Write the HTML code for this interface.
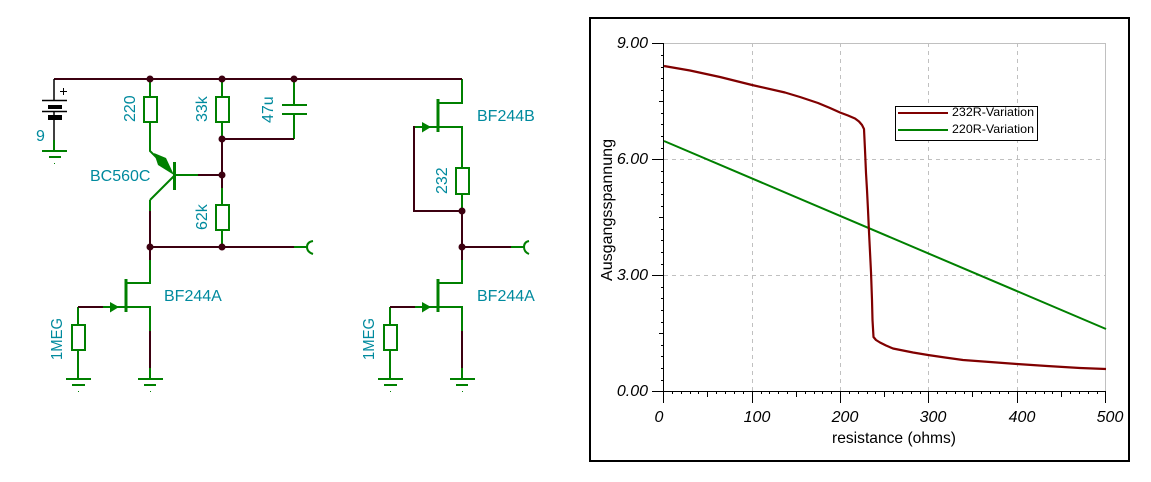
<!DOCTYPE html>
<html><head><meta charset="utf-8"><style>
html,body{margin:0;padding:0;background:#fff}
svg{display:block}
text{font-family:"Liberation Sans",Arial,sans-serif}
.l{fill:#008a9e;font-size:16px}
.t{fill:#000;font-size:16px;font-style:italic}
</style></head><body>
<svg width="1151" height="482" viewBox="0 0 1151 482" xmlns="http://www.w3.org/2000/svg">
<!-- schematic: green wires -->
<g fill="none" stroke="#008000" stroke-width="2">
<path d="M150 79V97M150 122V151L160 161M150 200L174 176M174 175H198M150 200V211"/>
<rect x="144" y="97" width="13" height="25"/>
<path d="M222 79V97M222 122V139M222 188V205M222 230V247"/>
<rect x="216" y="97" width="13" height="25"/><rect x="216" y="205" width="13" height="25"/>
<path d="M294 79V105M282 105H307M282 114H307M294 114V139"/>
<path d="M294 247H308M313 241Q307 242 307 247T313 254"/>
<path d="M54 140V151M42 151H67M49 157H61"/>
<path d="M150 260V283H126M126 307H150V331M150 368V379M138 379H163M144 385H156"/>
<path d="M103 307H126M78 307V325M78 350V379M66 379H91M72 385H85"/>
<rect x="72" y="325" width="13" height="25"/>
<path d="M462 260V283H438M438 307H462V331M462 368V379M450 379H475M456 385H468"/>
<path d="M415 307H438M390 307V325M390 350V379M378 379H403M384 385H397"/>
<rect x="384" y="325" width="13" height="25"/>
<path d="M462 79V103H438M415 127H462V168M462 194V211"/>
<rect x="456" y="168" width="13" height="26"/>
<path d="M511 247H524M529 241Q524 242 524 247T529 254"/>
</g>
<g stroke="#008000" fill="none">
<path d="M174.500 162V190" stroke-width="3"/>
<path d="M126 279V312M438 279V312M438 99V132" stroke-width="3"/>
</g>
<g fill="#008000">
<path d="M154 153L166 158L174 175L158 165Z"/>
<path d="M110 302L119 307L110 312.500ZM422 302L431 307L422 312.500ZM422 122L431 127L422 132.500Z"/>
<rect x="78" y="391" width="1" height="1"/><rect x="150" y="391" width="1" height="1"/><rect x="390" y="391" width="1" height="1"/><rect x="462" y="391" width="1" height="1"/><rect x="54" y="163" width="1" height="1"/>
</g>
<!-- dark wires -->
<g fill="none" stroke="#3c0010" stroke-width="2">
<path d="M54 79H462"/>
<path d="M222 139H294M222 139V188M198 175H222"/>
<path d="M150 211V260M150 247H294"/>
<path d="M150 331V368M78 307H103M462 331V368M390 307H415"/>
<path d="M462 211V260M462 247H511M462 211H414V127H415"/>
</g>
<path d="M54 79V100M42 100.500H67M42 111.500H67M54 112V140" fill="none" stroke="#000" stroke-width="1.500"/>
<rect x="48" y="105" width="14" height="4"/><rect x="48" y="115" width="14" height="5"/>
<path d="M60 91.500H67M63.500 88V95" stroke="#000" stroke-width="1" fill="none"/>
<g fill="#3c0010">
<circle cx="150" cy="79" r="3.500"/><circle cx="222" cy="79" r="3.500"/><circle cx="294" cy="79" r="3.500"/>
<circle cx="222" cy="139" r="3.500"/><circle cx="222" cy="175" r="3.500"/><circle cx="150" cy="247" r="3.500"/><circle cx="222" cy="247" r="3.500"/>
<circle cx="462" cy="211" r="3.500"/><circle cx="462" cy="247" r="3.500"/>
</g>
<!-- schematic labels -->
<text class="l" x="477" y="121">BF244B</text>
<text class="l" x="164" y="301">BF244A</text>
<text class="l" x="477" y="301">BF244A</text>
<text class="l" x="90" y="181">BC560C</text>
<text class="l" x="36" y="141">9</text>
<text class="l" transform="translate(135 122) rotate(-90)">220</text>
<text class="l" transform="translate(207 122) rotate(-90)">33k</text>
<text class="l" transform="translate(273 123) rotate(-90)">47u</text>
<text class="l" transform="translate(207 230) rotate(-90)">62k</text>
<text class="l" transform="translate(62 360) rotate(-90)" textLength="42" lengthAdjust="spacingAndGlyphs">1MEG</text>
<text class="l" transform="translate(374 360) rotate(-90)" textLength="42" lengthAdjust="spacingAndGlyphs">1MEG</text>
<text class="l" transform="translate(447 194) rotate(-90)">232</text>
<!-- plot frame -->
<rect x="590" y="18" width="539" height="443" fill="#fff" stroke="#000" stroke-width="2"/>
<g fill="none" stroke="#c0c0c0" stroke-width="1" shape-rendering="crispEdges">
<path d="M664 43.500H1105.500V391"/>
<path d="M752.500 43V391M840.500 43V391M928.500 43V391M1017.500 43V391M664 159.500H1105M664 275.500H1105" stroke-dasharray="4 4"/>
</g>
<g fill="none" stroke="#000" stroke-width="1" shape-rendering="crispEdges">
<path d="M663.500 43V403M652 391.500H1105.500"/>
<path d="M652 43.500H664M652 159.500H664M652 275.500H664"/>
<path d="M659 101.500H664M659 217.500H664M659 333.500H664"/>
<path d="M661 55.500H664M661 67.500H664M661 78.500H664M661 90.500H664M661 113.500H664M661 124.500H664M661 136.500H664M661 148.500H664M661 171.500H664M661 182.500H664M661 194.500H664M661 206.500H664M661 229.500H664M661 240.500H664M661 252.500H664M661 264.500H664M661 287.500H664M661 298.500H664M661 310.500H664M661 322.500H664M661 345.500H664M661 356.500H664M661 368.500H664M661 380.500H664"/>
<path d="M752.500 391V403M840.500 391V403M928.500 391V403M1017.500 391V403M1105.500 391V403"/>
<path d="M707.500 391V397M796.500 391V397M884.500 391V397M972.500 391V397M1061.500 391V397"/>
<path d="M672.500 391V394M681.500 391V394M690.500 391V394M698.500 391V394M716.500 391V394M725.500 391V394M734.500 391V394M743.500 391V394M761.500 391V394M769.500 391V394M778.500 391V394M787.500 391V394M805.500 391V394M814.500 391V394M822.500 391V394M831.500 391V394M849.500 391V394M858.500 391V394M867.500 391V394M875.500 391V394M893.500 391V394M902.500 391V394M911.500 391V394M920.500 391V394M937.500 391V394M946.500 391V394M955.500 391V394M964.500 391V394M981.500 391V394M990.500 391V394M999.500 391V394M1008.500 391V394M1026.500 391V394M1035.500 391V394M1044.500 391V394M1052.500 391V394M1070.500 391V394M1079.500 391V394M1088.500 391V394M1097.500 391V394"/>
</g>
<!-- curves -->
<path d="M664 141L1106 329" fill="none" stroke="#008000" stroke-width="2"/>
<path d="M664 66L690 70.500L720 77L752 85L785 92.500L800 97L818 103L830 108L840 112.500L848 115.500L855 118.500L859 121.500L862 125L864 129L865 150L866 173L867 190L868 210L869 232L870 252L871 272L872 300L872.500 320L873.500 337L876 340L880 342.500L886 345.500L893 348.500L903 350.500L913 352.500L928 355L945 357.500L963 360L990 362L1017 364L1047 366L1080 368L1106 369" fill="none" stroke="#800000" stroke-width="2.200" stroke-linejoin="round"/>
<!-- legend -->
<rect x="895.500" y="106.500" width="142" height="34" fill="#fff" stroke="#000" stroke-width="1" shape-rendering="crispEdges"/>
<path d="M898 113H948" stroke="#800000" stroke-width="2"/>
<path d="M898 130H948" stroke="#008000" stroke-width="2"/>
<text x="952" y="116" font-size="12" textLength="82" lengthAdjust="spacingAndGlyphs">232R-Variation</text>
<text x="952" y="133" font-size="12" textLength="82" lengthAdjust="spacingAndGlyphs">220R-Variation</text>
<!-- tick labels -->
<text class="t" x="648" y="48" text-anchor="end">9.00</text>
<text class="t" x="648" y="164" text-anchor="end">6.00</text>
<text class="t" x="648" y="280" text-anchor="end">3.00</text>
<text class="t" x="648" y="396" text-anchor="end">0.00</text>
<text class="t" x="659" y="422" text-anchor="middle">0</text>
<text class="t" x="757" y="422" text-anchor="middle">100</text>
<text class="t" x="845" y="422" text-anchor="middle">200</text>
<text class="t" x="933" y="422" text-anchor="middle">300</text>
<text class="t" x="1022" y="422" text-anchor="middle">400</text>
<text class="t" x="1110" y="422" text-anchor="middle">500</text>
<text x="832" y="443" font-size="16" textLength="124" lengthAdjust="spacingAndGlyphs">resistance (ohms)</text>
<text transform="translate(612 281) rotate(-90)" font-size="16" textLength="142" lengthAdjust="spacingAndGlyphs">Ausgangsspannung</text>
</svg>
</body></html>
